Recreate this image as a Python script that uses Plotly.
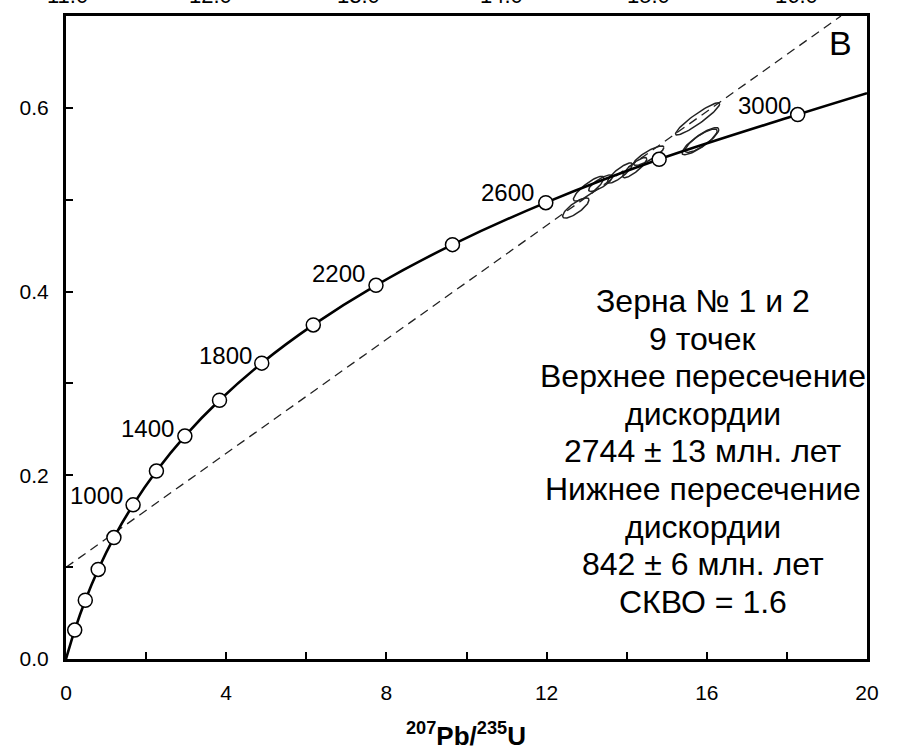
import numpy as np
import plotly.graph_objects as go

# Concordia points (age, 207Pb/235U, 206Pb/238U)
conc_age = [200, 400, 600, 800, 1000, 1200, 1400, 1600, 1800, 2000, 2200, 2400, 2600, 2800, 3000]
conc_x = [0.218, 0.482, 0.804, 1.196, 1.675, 2.258, 2.968, 3.833, 4.888, 6.174, 7.74, 9.65, 11.98, 14.81, 18.27]
conc_y = [0.0315, 0.0640, 0.0975, 0.1322, 0.1678, 0.2046, 0.2427, 0.2817, 0.3221, 0.3637, 0.4068, 0.4511, 0.4968, 0.5440, 0.5927]
curve_start = (0.0, 0.0)
curve_end = (20.0, 0.616)

# Labelled ages and their label positions
label_ages = ["1000", "1400", "1800", "2200", "2600", "3000"]
label_x = [0.75, 2.03, 3.98, 6.8, 11.03, 17.45]
label_y = [0.178, 0.251, 0.330, 0.420, 0.508, 0.603]

# Discordia
disc_x = [0.0, 19.35]
disc_y = [0.0998, 0.700]

# Analysis ellipses (centre, half-widths, correlation)
ell_x = [12.73, 13.05, 13.35, 13.83, 14.2, 14.55, 15.77, 15.82, 15.88]
ell_y = [0.491, 0.512, 0.518, 0.529, 0.535, 0.548, 0.588, 0.563, 0.565]
ell_sx = [0.33, 0.38, 0.30, 0.31, 0.30, 0.38, 0.55, 0.44, 0.42]
ell_sy = [0.011, 0.0135, 0.009, 0.011, 0.011, 0.0105, 0.0175, 0.0140, 0.0135]
ell_rho = [0.80, 0.85, 0.80, 0.85, 0.85, 0.85, 0.93, 0.85, 0.84]

info_lines = ["Зерна № 1 и 2", "9 точек", "Верхнее пересечение", "дискордии",
              "2744 ± 13 млн. лет", "Нижнее пересечение", "дискордии",
              "842 ± 6 млн. лет", "СКВО = 1.6"]

top_labels = ["11.0", "12.0", "13.0", "14.0", "15.0", "16.0"]

x_ticks = [0, 4, 8, 12, 16, 20]
y_ticks = [0.0, 0.2, 0.4, 0.6]

FONT = "Liberation Sans, Arial, sans-serif"

# plot area geometry in page pixels
PL, PT, PW, PH = 66, 16, 801, 643

fig = go.Figure()

# discordia
fig.add_trace(go.Scatter(x=disc_x, y=disc_y, mode="lines",
                         line=dict(color="#222", width=1.3, dash="9px,6px"),
                         hoverinfo="skip", showlegend=False))

# ellipses
t = np.linspace(0, 2 * np.pi, 80)
for cx, cy, sx, sy, r in zip(ell_x, ell_y, ell_sx, ell_sy, ell_rho):
    ex = cx + sx * np.cos(t)
    ey = cy + sy * (r * np.cos(t) + np.sqrt(1 - r * r) * np.sin(t))
    fig.add_trace(go.Scatter(x=ex, y=ey, mode="lines",
                             line=dict(color="#222", width=1.5),
                             hoverinfo="skip", showlegend=False))

# concordia curve
cx_all = [curve_start[0]] + conc_x + [curve_end[0]]
cy_all = [curve_start[1]] + conc_y + [curve_end[1]]
fig.add_trace(go.Scatter(x=cx_all, y=cy_all, mode="lines",
                         line=dict(color="black", width=2.6, shape="spline", smoothing=0.9),
                         hoverinfo="skip", showlegend=False))
fig.add_trace(go.Scatter(x=conc_x, y=conc_y, mode="markers",
                         marker=dict(size=14, color="white", line=dict(color="black", width=1.5)),
                         text=[str(a) for a in conc_age], hoverinfo="text", showlegend=False))

# age labels
for lx, ly, lt in zip(label_x, label_y, label_ages):
    fig.add_annotation(x=lx, y=ly, text=lt, showarrow=False,
                       xanchor="center", yanchor="middle",
                       font=dict(family=FONT, size=24, color="black"))

# info block
y0_px, step_px = 301, 37.6
for i, line in enumerate(info_lines):
    yp = 1 - (y0_px + step_px * i - PT) / PH
    fig.add_annotation(xref="x", yref="paper", x=15.9, y=yp, text=line, showarrow=False,
                       xanchor="center", yanchor="middle",
                       font=dict(family=FONT, size=32, color="black"))

# panel letter
fig.add_annotation(xref="paper", yref="paper", x=(840 - PL) / PW, y=1 - (43 - PT) / PH,
                   text="B", showarrow=False, xanchor="center", yanchor="middle",
                   font=dict(family=FONT, size=34, color="black"))

# x-axis title
fig.add_annotation(xref="paper", yref="paper", x=(466 - PL) / PW, y=1 - (734 - PT) / PH,
                   text="<b><sup>207</sup>Pb/<sup>235</sup>U</b>", showarrow=False,
                   xanchor="center", yanchor="middle",
                   font=dict(family=FONT, size=26, color="black"))

# cut-off labels of the panel above (only their lower edge shows)
top_px = [67, 210, 358, 501, 648, 796]
for px, tl in zip(top_px, top_labels):
    fig.add_annotation(xref="paper", yref="paper", x=(px - PL) / PW, y=1 + (PT + 5) / PH,
                       text=tl, showarrow=False, xanchor="center", yanchor="middle",
                       font=dict(family=FONT, size=22, color="black"))

fig.update_layout(
    width=898, height=749,
    margin=dict(l=PL, r=898 - PL - PW, t=PT, b=749 - PT - PH, autoexpand=False),
    paper_bgcolor="white", plot_bgcolor="white",
    font=dict(family=FONT, color="black"),
    xaxis=dict(range=[0, 20], tickvals=x_ticks, ticktext=[str(v) for v in x_ticks],
               ticks="inside", ticklen=7, tickwidth=2, tickcolor="black",
               minor=dict(dtick=2, ticks="inside", ticklen=7, tickwidth=2, tickcolor="black"),
               showline=True, linecolor="black", linewidth=3, mirror=True,
               showgrid=False, zeroline=False, tickfont=dict(size=21),
               ticklabelstandoff=13),
    yaxis=dict(range=[0, 0.7], tickvals=y_ticks, ticktext=["0.0", "0.2", "0.4", "0.6"],
               ticks="inside", ticklen=7, tickwidth=2, tickcolor="black",
               minor=dict(dtick=0.1, ticks="inside", ticklen=7, tickwidth=2, tickcolor="black"),
               showline=True, linecolor="black", linewidth=3, mirror=True,
               showgrid=False, zeroline=False, tickfont=dict(size=21),
               ticklabelstandoff=10),
)

fig.write_html("out.html", config={"displayModeBar": False},
               post_script="document.body.style.margin='0';document.body.style.overflow='hidden';")
